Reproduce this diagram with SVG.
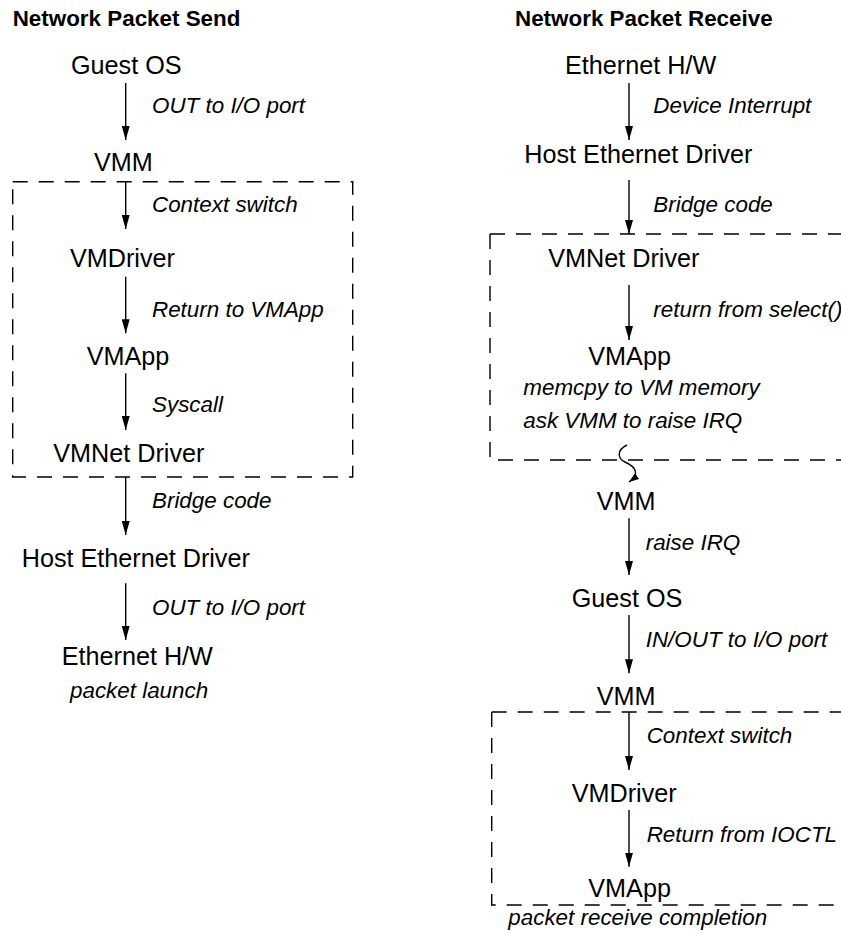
<svg xmlns="http://www.w3.org/2000/svg" width="841" height="934" viewBox="0 0 841 934">
<style>
  .node { font-family: "Liberation Sans", Arial, sans-serif; font-size: 25.2px; fill: #000; }
  .lbl { font-family: "Liberation Sans", Arial, sans-serif; font-size: 22.4px; font-style: italic; fill: #000; }
  .title { font-family: "Liberation Sans", Arial, sans-serif; font-size: 22.4px; font-weight: bold; fill: #000; }
  .arr { stroke: #000; stroke-width: 1.4; fill: none; marker-end: url(#ah); }
  .box { stroke: #000; stroke-width: 1.4; fill: none; stroke-dasharray: 15 11; }
</style>
<defs>
  <marker id="ah" markerUnits="userSpaceOnUse" viewBox="0 0 14 8" markerWidth="14" markerHeight="8" refX="14" refY="4" orient="auto">
    <path d="M0,0 L14,4 L0,8 z" fill="#000"/>
  </marker>
  <marker id="ahs" markerUnits="userSpaceOnUse" viewBox="0 0 10 7" markerWidth="10" markerHeight="7" refX="10" refY="3.5" orient="auto">
    <path d="M0,0 L10,3.5 L0,7 z" fill="#000"/>
  </marker>
</defs>
<rect width="841" height="934" fill="#fff"/>

<g id="titles">
  <text class="title" x="12.7" y="26">Network Packet Send</text>
  <text class="title" x="515" y="26">Network Packet Receive</text>
</g>

<g id="boxes">
  <rect class="box" x="12.7" y="181.7" width="340" height="295.3"/>
  <path class="box" d="M490,234 H860 M490,234 V460 H860"/>
  <path class="box" d="M491.7,712 H860 M491.7,712 V905 H860"/>
</g>

<g id="send">
  <g id="s-guest"><text class="node" x="71" y="74">Guest OS</text></g>
  <g id="s-vmm"><text class="node" x="94" y="170.7">VMM</text></g>
  <g id="s-vmdriver"><text class="node" x="70" y="266.7">VMDriver</text></g>
  <g id="s-vmapp"><text class="node" x="86.7" y="365">VMApp</text></g>
  <g id="s-vmnet"><text class="node" x="53.3" y="461.7">VMNet Driver</text></g>
  <g id="s-hostdrv"><text class="node" x="21.7" y="567">Host Ethernet Driver</text></g>
  <g id="s-ethhw"><text class="node" x="61.7" y="665">Ethernet H/W</text>
    <text class="lbl" x="70" y="698">packet launch</text></g>
</g>

<g id="receive">
  <g id="r-ethhw"><text class="node" x="565" y="74">Ethernet H/W</text></g>
  <g id="r-hostdrv"><text class="node" x="524.3" y="163.3">Host Ethernet Driver</text></g>
  <g id="r-vmnet"><text class="node" x="548.3" y="266.7">VMNet Driver</text></g>
  <g id="r-vmapp1"><text class="node" x="588.3" y="365">VMApp</text>
    <text class="lbl" x="523.3" y="395">memcpy to VM memory</text>
    <text class="lbl" x="523.3" y="428.3">ask VMM to raise IRQ</text></g>
  <g id="r-vmm1"><text class="node" x="596.7" y="510">VMM</text></g>
  <g id="r-guest"><text class="node" x="571.7" y="606.7">Guest OS</text></g>
  <g id="r-vmm2"><text class="node" x="596.7" y="705">VMM</text></g>
  <g id="r-vmdriver"><text class="node" x="571.7" y="801.7">VMDriver</text></g>
  <g id="r-vmapp2"><text class="node" x="588.3" y="897">VMApp</text>
    <text class="lbl" x="508.3" y="925">packet receive completion</text></g>
</g>

<g id="connectors">
  <line class="arr" x1="125.7" y1="83" x2="125.7" y2="140"/>
  <line class="arr" x1="125.7" y1="182" x2="125.7" y2="229"/>
  <line class="arr" x1="125.7" y1="276.7" x2="125.7" y2="333.3"/>
  <line class="arr" x1="125.7" y1="373.3" x2="125.7" y2="430"/>
  <line class="arr" x1="125.7" y1="477" x2="125.7" y2="535"/>
  <line class="arr" x1="125.7" y1="583.3" x2="125.7" y2="640"/>

  <line class="arr" x1="629" y1="83" x2="629" y2="140"/>
  <line class="arr" x1="629" y1="180" x2="629" y2="234"/>
  <line class="arr" x1="629" y1="285" x2="629" y2="340"/>
  <path d="M627,445 C617,450 617,458 625,462 C636,467 640,474 629,482" stroke="#000" stroke-width="1.4" fill="none" marker-end="url(#ahs)"/>
  <line class="arr" x1="629" y1="518.3" x2="629" y2="575"/>
  <line class="arr" x1="629" y1="615" x2="629" y2="673.3"/>
  <line class="arr" x1="629" y1="712" x2="629" y2="770"/>
  <line class="arr" x1="629" y1="810" x2="629" y2="866.7"/>

  <g id="labels">
    <text class="lbl" x="152" y="113">OUT to I/O port</text>
    <text class="lbl" x="152" y="211.7">Context switch</text>
    <text class="lbl" x="152" y="316.7">Return to VMApp</text>
    <text class="lbl" x="152" y="411.7">Syscall</text>
    <text class="lbl" x="152" y="508.3">Bridge code</text>
    <text class="lbl" x="152" y="615">OUT to I/O port</text>

    <text class="lbl" x="653.3" y="113">Device Interrupt</text>
    <text class="lbl" x="653.3" y="211.7">Bridge code</text>
    <text class="lbl" x="653.3" y="316.7">return from select()</text>
    <text class="lbl" x="645.7" y="550">raise IRQ</text>
    <text class="lbl" x="645.7" y="646.7">IN/OUT to I/O port</text>
    <text class="lbl" x="646.7" y="743.3">Context switch</text>
    <text class="lbl" x="646.7" y="841.7">Return from IOCTL</text>
  </g>
</g>
</svg>
